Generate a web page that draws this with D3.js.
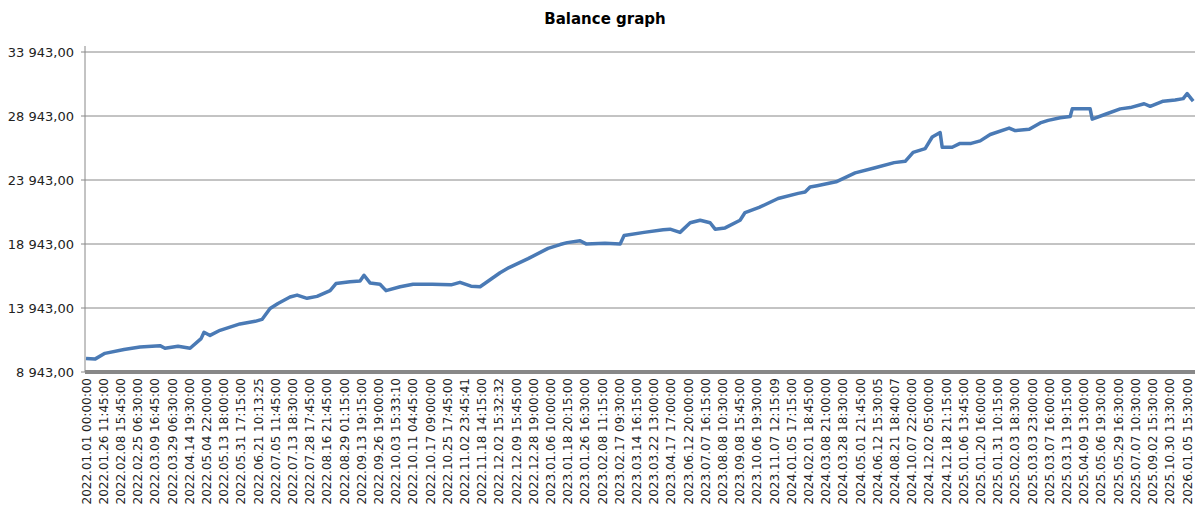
<!DOCTYPE html><html><head><meta charset="utf-8"><script src="https://cdn.jsdelivr.net/npm/d3@7"></script>
<style>body{margin:0;background:#fff}text{font-family:"DejaVu Sans",Verdana,sans-serif}</style></head><body><svg id="c" width="1200" height="518"></svg>
<script>
const tickLabels=["2022.01.01 00:00:00","2022.01.26 11:45:00","2022.02.08 15:45:00","2022.02.25 06:30:00","2022.03.09 16:45:00","2022.03.29 06:30:00","2022.04.14 19:30:00","2022.05.04 22:00:00","2022.05.13 18:00:00","2022.05.31 17:15:00","2022.06.21 10:13:25","2022.07.05 11:45:00","2022.07.13 18:30:00","2022.07.28 17:45:00","2022.08.16 21:45:00","2022.08.29 01:15:00","2022.09.13 19:15:00","2022.09.26 19:00:00","2022.10.03 15:33:10","2022.10.11 04:45:00","2022.10.17 09:00:00","2022.10.25 17:45:00","2022.11.02 23:45:41","2022.11.18 14:15:00","2022.12.02 15:32:32","2022.12.09 15:45:00","2022.12.28 19:00:00",
"2023.01.06 10:00:00","2023.01.18 20:15:00","2023.01.26 16:30:00","2023.02.08 11:15:00","2023.02.17 09:30:00","2023.03.14 16:15:00","2023.03.22 13:00:00","2023.04.17 17:00:00","2023.06.12 20:00:00","2023.07.07 16:15:00","2023.08.08 10:30:00","2023.09.08 15:45:00","2023.10.06 19:30:00","2023.11.07 12:15:09",
"2024.01.05 17:15:00","2024.02.01 18:45:00","2024.03.08 21:00:00","2024.03.28 18:30:00","2024.05.01 21:45:00","2024.06.12 15:30:05","2024.08.21 18:40:07","2024.10.07 22:00:00","2024.12.02 05:00:00","2024.12.18 21:15:00",
"2025.01.06 13:45:00","2025.01.20 16:00:00","2025.01.31 10:15:00","2025.02.03 18:30:00","2025.03.03 23:00:00","2025.03.07 16:00:00","2025.03.13 19:15:00","2025.04.09 13:00:00","2025.05.06 19:30:00","2025.05.29 16:30:00","2025.07.07 10:30:00","2025.09.02 15:30:00","2025.10.30 13:30:00","2026.01.05 15:30:00"];
// position in tick-label index units, paired with balance values
const xIdx=[0,0.52,1.1,2.21,3.14,4.3,4.59,5.35,6.05,6.69,
6.86,7.21,7.79,8.95,9.83,10.23,10.7,11.16,11.86,12.27,
12.85,13.43,14.19,14.53,15.35,15.93,16.16,16.51,17.09,17.44,
18.26,19.01,20.12,21.22,21.74,22.38,22.91,23.49,24.07,24.59,
25.7,26.86,27.56,27.97,28.72,29.07,30.17,31.05,31.28,32.44,
33.55,33.95,34.53,35.12,35.7,36.28,36.57,37.15,38.02,38.31,
39.13,40.23,41.4,41.8,42.09,42.5,43.6,44.71,45.87,46.98,
47.62,48.08,48.78,49.19,49.65,49.77,50.35,50.81,51.45,51.98,
52.56,53.66,54.01,54.83,55.47,55.93,56.63,57.21,57.33,58.37,
58.49,59.3,60.12,60.7,61.51,61.86,62.62,63.31,63.78,64.01,
64.24,64.36];
const balance=[10000,9950,10400,10700,10900,11000,10800,10950,10800,11550,
12050,11800,12200,12700,12900,13050,13900,14300,14800,14950,
14700,14850,15300,15850,16000,16050,16500,15900,15800,15300,
15600,15800,15800,15750,15950,15650,15600,16150,16700,17100,
17800,18600,18900,19050,19200,18950,19000,18950,19600,19850,
20050,20100,19850,20600,20800,20600,20100,20200,20800,21400,
21800,22500,22900,23000,23400,23500,23800,24500,24900,25300,
25400,26100,26400,27300,27650,26500,26500,26800,26800,27000,
27500,28000,27800,27900,28400,28600,28800,28900,29500,29500,
28700,29100,29500,29600,29900,29700,30100,30200,30300,30700,
30300,30100];
const yTicks=[8943,13943,18943,23943,28943,33943];
</script>
<script>
const n=Math.min(xIdx.length,balance.length);
const pts=d3.range(n).map(i=>[xIdx[i],balance[i]]);
const svg=d3.select("#c");
const L=85,R=1195,T=52,B=372;
const x=d3.scaleLinear().domain([0,tickLabels.length-1]).range([86,1187]);
const y=d3.scaleLinear().domain([8943,33943]).range([B,T]);
const fmt=v=>d3.format(",.2f")(v).replace(",", " ").replace(".",",");
svg.append("text").attr("x",605).attr("y",24).attr("text-anchor","middle").attr("font-weight","bold").attr("font-size",15).text("Balance graph");
svg.selectAll(".g").data(yTicks).join("line").attr("x1",L-4).attr("x2",R).attr("y1",d=>y(d)).attr("y2",d=>y(d)).attr("stroke","#888").attr("stroke-width",1);
svg.selectAll(".yl").data(yTicks).join("text").attr("x",L-11).attr("y",d=>y(d)+5).attr("text-anchor","end").attr("font-size",13).attr("fill","#222").text(fmt);
svg.append("line").attr("x1",L).attr("x2",L).attr("y1",T-6).attr("y2",B).attr("stroke","#888");
svg.append("line").attr("x1",L).attr("x2",R).attr("y1",B).attr("y2",B).attr("stroke","#888").attr("stroke-width",4);
svg.selectAll(".xl").data(tickLabels).join("text").attr("transform",(d,i)=>`translate(${x(i)+4.5},378) rotate(-90)`).attr("text-anchor","end").attr("font-size",12).attr("fill","#222").text(d=>d);
svg.append("path").datum(pts).attr("fill","none").attr("stroke","#4a7ab5").attr("stroke-width",3.5).attr("stroke-linejoin","round").attr("d",d3.line().x(d=>x(d[0])).y(d=>y(d[1])));
</script></body></html>
